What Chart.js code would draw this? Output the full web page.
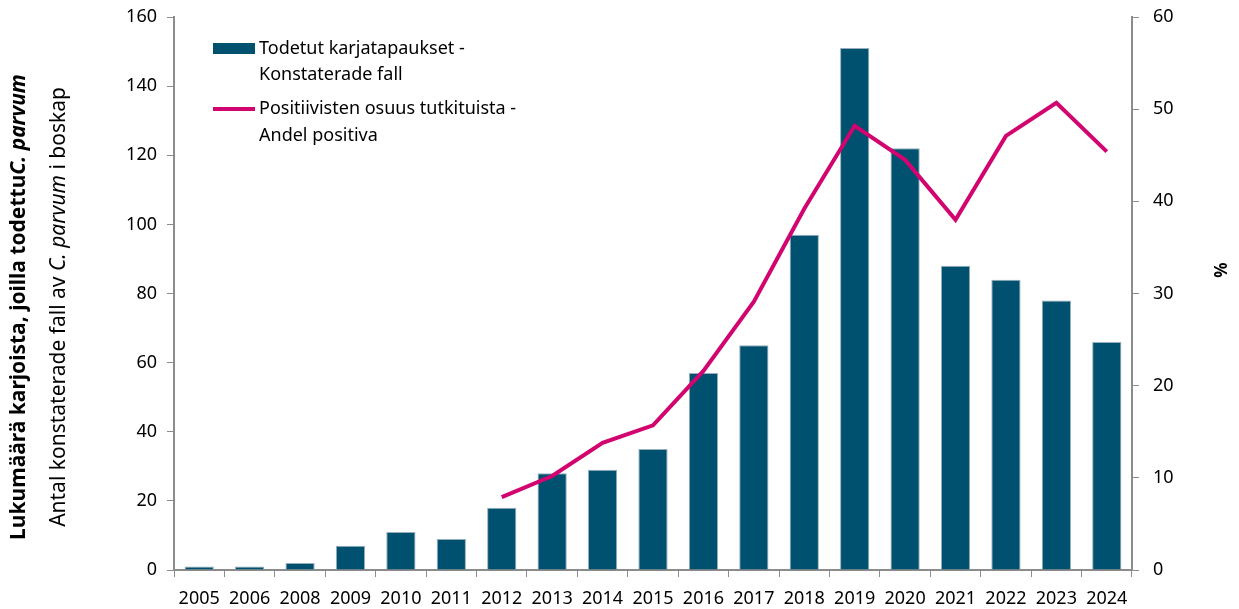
<!DOCTYPE html>
<html>
<head>
<meta charset="utf-8">
<script src="https://cdn.jsdelivr.net/npm/chart.js@4.4.1/dist/chart.umd.min.js"></script>
<style>
  html, body { margin: 0; padding: 0; background: #fff; }
  #wrap { width: 1239px; height: 609px; position: relative; }
</style>
</head>
<body>
<div id="wrap"><canvas id="chart"></canvas></div>
<script>
// ===== Data =====
const years = ["2005", "2006", "2008", "2009", "2010", "2011", "2012", "2013", "2014", "2015",
               "2016", "2017", "2018", "2019", "2020", "2021", "2022", "2023", "2024"];
const cases = [1, 1, 2, 7, 11, 9, 18, 28, 29, 35, 57, 65, 97, 151, 122, 88, 84, 78, 66];
const positiveShare = [null, null, null, null, null, null, 7.9, 10.2, 13.8, 15.7, 21.6, 29.1,
                       39.2, 48.2, 44.5, 38.0, 47.1, 50.7, 45.4];

const barLabel = ["Todetut karjatapaukset -", "Konstaterade fall"];
const lineLabel = ["Positiivisten osuus tutkituista -", "Andel positiva"];

const BAR_COLOR = "#00506f";
const LINE_COLOR = "#d2046f";
const AXIS_COLOR = "#8c8c8c";
const FONT = "'Noto Sans', sans-serif";

// ===== Otsikot ja selite piirretään itse =====
const decorPlugin = {
    id: "decor",
    afterDraw(chart) {
        const ctx = chart.ctx;
        ctx.save();
        ctx.fillStyle = "#000";
        ctx.textBaseline = "middle";

        // vasemman akselin otsikko (kaksi riviä, osittain kursivoitu)
        const cy = 307;
        drawRich(ctx, 19, cy, [
            ["bold 21px " + FONT, "Lukumäärä karjoista, joilla todettu"],
            ["italic bold 21px " + FONT, "C. parvum"]
        ]);
        drawRich(ctx, 59, cy, [
            ["21px " + FONT, "Antal konstaterade fall av "],
            ["italic 21px " + FONT, "C. parvum"],
            ["21px " + FONT, " i boskap"]
        ]);

        // oikean akselin otsikko
        ctx.save();
        ctx.translate(1222, 270);
        ctx.rotate(-Math.PI / 2);
        ctx.font = "bold 17px " + FONT;
        ctx.textAlign = "center";
        ctx.fillText("%", 0, 0);
        ctx.restore();

        // selite
        ctx.textAlign = "left";
        ctx.font = "18px " + FONT;
        ctx.fillStyle = BAR_COLOR;
        ctx.fillRect(213, 43, 42, 11);
        ctx.fillStyle = "#000";
        ctx.fillText(barLabel[0], 259, 49);
        ctx.fillText(barLabel[1], 259, 75);

        ctx.strokeStyle = LINE_COLOR;
        ctx.lineWidth = 4;
        ctx.beginPath();
        ctx.moveTo(213, 109);
        ctx.lineTo(255, 109);
        ctx.stroke();
        ctx.fillText(lineLabel[0], 259, 109);
        ctx.fillText(lineLabel[1], 259, 136);

        ctx.restore();
    }
};

function drawRich(ctx, x, cy, parts) {
    ctx.save();
    let total = 0;
    parts.forEach(p => { ctx.font = p[0]; total += ctx.measureText(p[1]).width; });
    ctx.translate(x, cy);
    ctx.rotate(-Math.PI / 2);
    ctx.textAlign = "left";
    let pos = -total / 2;
    parts.forEach(p => {
        ctx.font = p[0];
        ctx.fillText(p[1], pos, 0);
        pos += ctx.measureText(p[1]).width;
    });
    ctx.restore();
}

const axisGrid = {
    drawOnChartArea: false,
    drawTicks: true,
    tickLength: 7,
    color: AXIS_COLOR
};

new Chart(document.getElementById("chart").getContext("2d"), {
    type: "bar",
    data: {
        labels: years,
        datasets: [
            {
                type: "line",
                label: lineLabel.join(" "),
                data: positiveShare,
                yAxisID: "y1",
                borderColor: LINE_COLOR,
                borderWidth: 4,
                pointRadius: 0,
                tension: 0,
                order: 0
            },
            {
                type: "bar",
                label: barLabel.join(" "),
                data: cases,
                yAxisID: "y",
                backgroundColor: BAR_COLOR,
                borderColor: "rgba(140,165,180,0.9)",
                borderWidth: 1,
                categoryPercentage: 1,
                barPercentage: 0.58,
                order: 1
            }
        ]
    },
    options: {
        responsive: true,
        maintainAspectRatio: false,
        animation: false,
        layout: { padding: { top: 17, left: 0, right: 0, bottom: 0 } },
        plugins: {
            legend: { display: false },
            tooltip: { enabled: false }
        },
        scales: {
            x: {
                offset: true,
                grid: { ...axisGrid, offset: true },
                border: { color: AXIS_COLOR, width: 2 },
                ticks: {
                    color: "#000",
                    font: { family: FONT, size: 18 },
                    padding: 11,
                    maxRotation: 0,
                    autoSkip: false
                },
                afterFit(scale) {
                    scale.height = 39;
                    scale.paddingLeft = 0;
                    scale.paddingRight = 0;
                }
            },
            y: {
                position: "left",
                min: 0,
                max: 160,
                grid: axisGrid,
                border: { color: AXIS_COLOR, width: 2 },
                ticks: {
                    stepSize: 20,
                    color: "#000",
                    font: { family: FONT, size: 18 },
                    padding: 10
                },
                afterFit(scale) {
                    scale.width = 174;
                    scale.paddingTop = 0;
                    scale.paddingBottom = 0;
                }
            },
            y1: {
                position: "right",
                min: 0,
                max: 60,
                grid: axisGrid,
                border: { color: AXIS_COLOR, width: 2 },
                ticks: {
                    stepSize: 10,
                    color: "#000",
                    font: { family: FONT, size: 18 },
                    padding: 14
                },
                afterFit(scale) {
                    scale.width = 107;
                    scale.paddingTop = 0;
                    scale.paddingBottom = 0;
                }
            }
        }
    },
    plugins: [decorPlugin]
});
</script>
</body>
</html>
